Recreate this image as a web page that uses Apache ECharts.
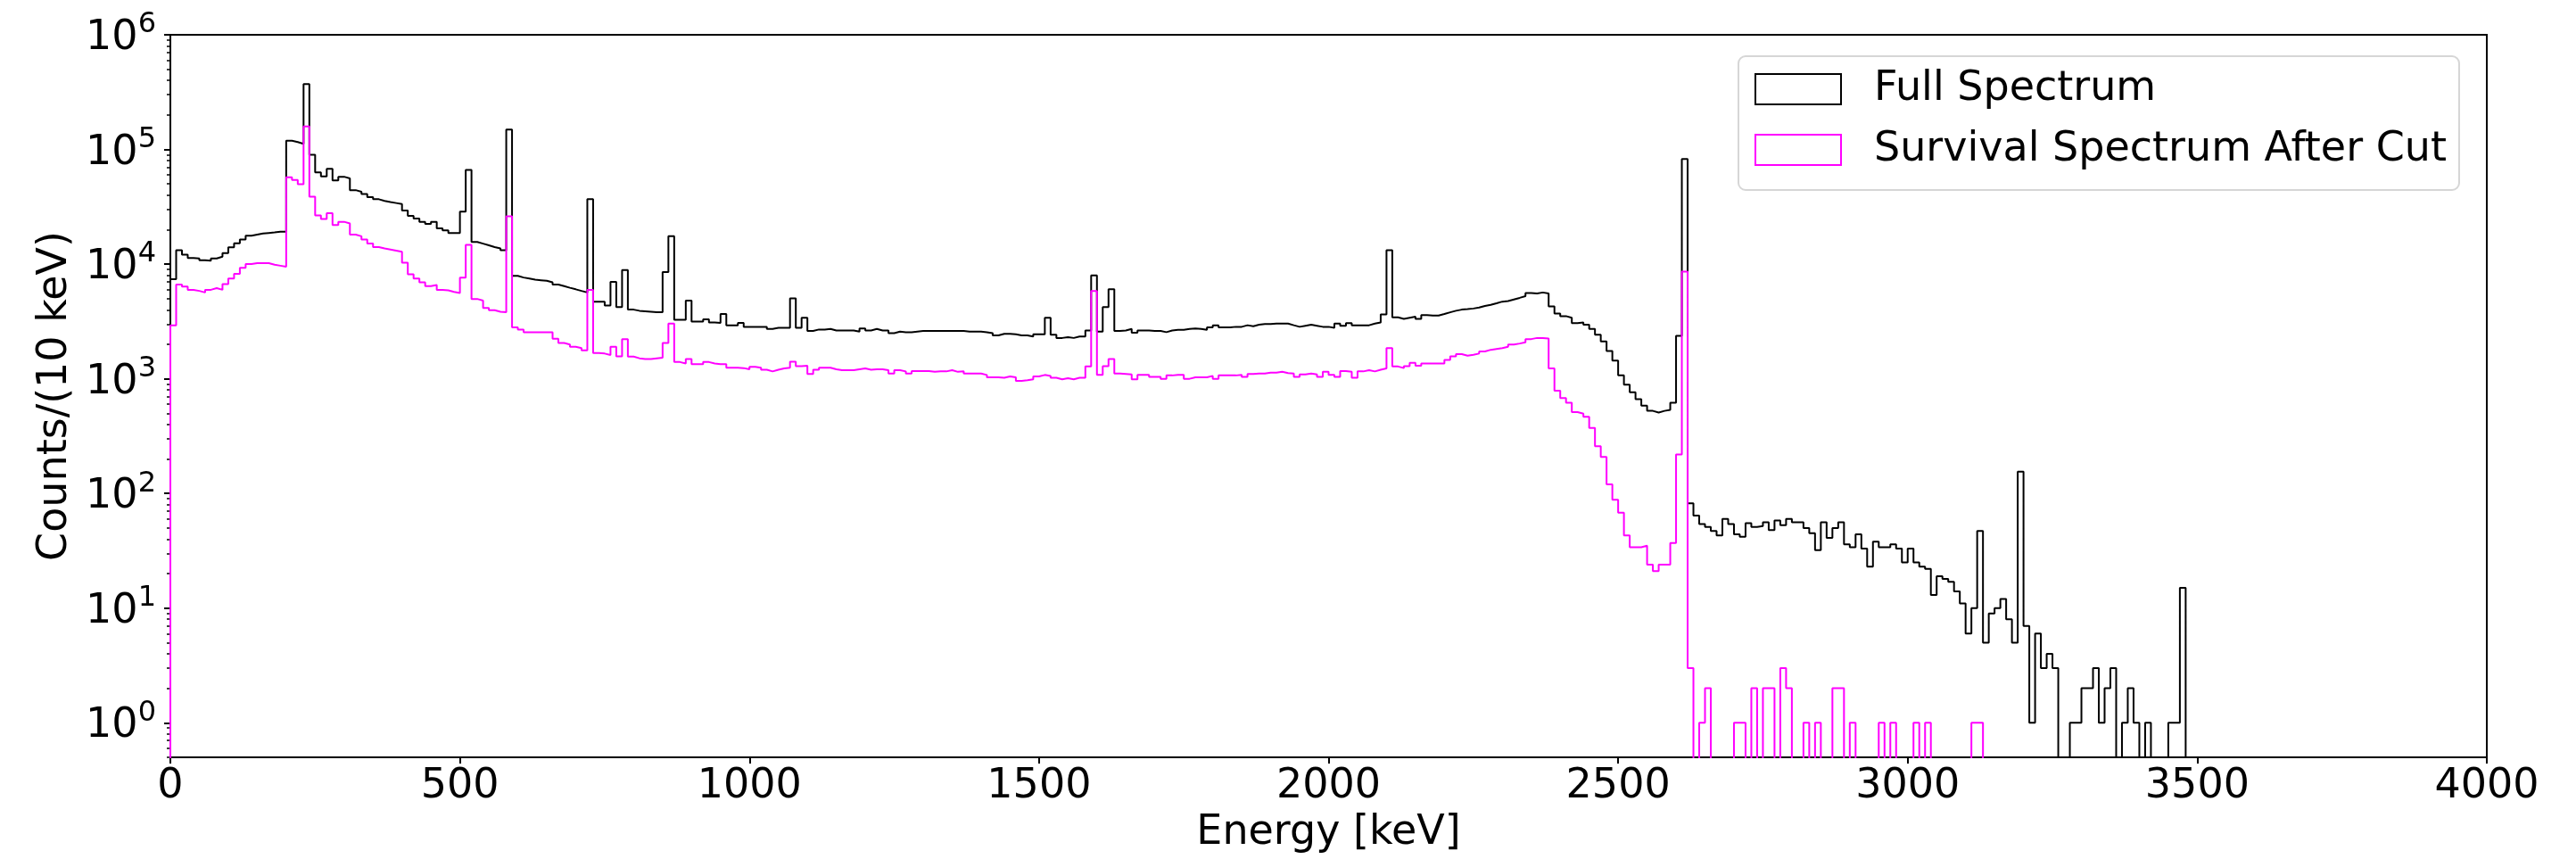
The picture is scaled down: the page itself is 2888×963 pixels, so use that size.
<!DOCTYPE html>
<html>
<head>
<meta charset="utf-8">
<script src="https://cdn.jsdelivr.net/npm/echarts@6/dist/echarts.min.js"></script>
<style>
html,body{margin:0;padding:0;background:#fff;}
#chart{width:2888px;height:963px;}
</style>
</head>
<body>
<div id="chart"></div>
<script>
// Histogram: 10 keV bins starting at 0 keV
const binWidth = 10;
const seriesNames = ['Full Spectrum', 'Survival Spectrum After Cut'];
const xTickValues = [0, 500, 1000, 1500, 2000, 2500, 3000, 3500, 4000];
const yMajorValues = [1, 10, 100, 1000, 10000, 100000, 1000000];

const fullCounts = [
7400,13200,12100,11300,11200,10800,10700,11200,11600,12500,
14000,15200,16400,17700,18100,18500,18700,18900,19200,19200,
119000,116000,112000,372000,89800,63000,58300,67900,53600,57800,
56000,44200,42800,40900,38400,36800,35600,34800,34100,33400,
29300,26300,25000,23400,22400,23400,20500,19700,18700,18700,
28700,66400,15600,15100,14600,14100,13700,13200,149000,7890,
7640,7480,7310,7240,7160,6940,6640,6430,6220,6030,
5840,5660,36800,4710,4710,4360,7010,4230,8890,4010,
3920,3880,3840,3800,3800,8510,17500,3270,3270,4810,
3160,3160,3300,3100,3070,3670,2930,2930,3070,2840,
2840,2840,2840,2720,2780,2780,2780,5020,2780,3410,
2610,2690,2690,2720,2640,2640,2640,2640,2580,2750,
2640,2720,2640,2640,2500,2580,2550,2550,2580,2610,
2610,2610,2610,2610,2610,2610,2610,2580,2580,2580,
2550,2500,2390,2470,2470,2440,2390,2390,2340,2440,
2440,3410,2420,2270,2310,2270,2340,2340,2640,7980,
2580,4230,6030,2610,2640,2720,2520,2640,2640,2610,
2610,2550,2640,2670,2670,2720,2750,2720,2670,2810,
2930,2810,2810,2840,2840,2930,2870,2960,3000,3000,
3030,3030,3030,2930,2840,2900,2960,2900,2840,2840,
2780,3030,2900,3060,2930,2930,2930,3030,3100,3640,
13200,3440,3330,3410,3480,3330,3600,3560,3560,3670,
3800,3920,4010,4050,4100,4180,4320,4420,4560,4710,
4760,4920,5080,5250,5600,5540,5660,5540,4280,3710,
3520,3410,3060,3100,2960,2720,2420,2120,1750,1440,
1070,889,764,664,583,525,508,525,536,617,
2370,82400,82,64,54,51,47,43,60,54,
44,42,55,51,52,56,48,58,53,60,
56,56,50,45,32,56,41,50,56,36,
34,44,33,23,38,34,34,36,33,25,
33,25,23,22,13,19,18,17,14,11,
6,10,47,5,9,10,12,8,5,155,
7,1,6,3,4,3,0,0,1,1,
2,2,3,1,2,3,0,1,2,1,
0,1,0,0,0,1,1,15
];

const survivalCounts = [
2930,6640,6360,5970,5840,5660,5970,6170,5970,6710,
7480,8240,9270,10000,10200,10200,10200,9900,9690,9480,
57200,54200,49700,159000,38800,26600,24700,27800,21900,23400,
22600,18100,17500,16400,15100,14100,13700,13400,13100,12800,
10300,8150,7480,6940,6430,6570,5970,5900,5720,5600,
7640,14700,4970,4810,4140,3970,3840,3800,26100,2810,
2690,2550,2550,2550,2550,2550,2240,2050,1990,1900,
1850,1770,5970,1680,1660,1610,1900,1570,2220,1560,
1510,1490,1490,1510,1530,2050,3030,1400,1360,1490,
1340,1340,1400,1360,1340,1340,1250,1250,1240,1210,
1270,1250,1200,1160,1200,1230,1250,1410,1290,1300,
1100,1200,1250,1250,1210,1190,1190,1190,1210,1230,
1200,1210,1210,1190,1110,1190,1160,1110,1170,1170,
1170,1150,1160,1160,1190,1150,1160,1110,1110,1110,
1080,1030,1030,1020,1050,1030,960,970,990,1050,
1080,1060,1020,990,1010,990,1020,1020,1280,5830,
1080,1290,1490,1110,1100,1090,990,1080,1080,1040,
1040,1000,1070,1080,1080,1000,1030,1030,1030,1060,
1000,1070,1070,1070,1080,1040,1100,1110,1110,1130,
1130,1150,1120,1110,1040,1090,1110,1090,1040,1150,
1080,1040,1170,1150,1020,1160,1190,1160,1200,1230,
1850,1280,1240,1290,1380,1300,1360,1360,1360,1360,
1460,1570,1640,1590,1620,1660,1730,1790,1820,1850,
1900,1990,2030,2080,2220,2270,2270,2250,1230,789,
679,617,513,497,466,372,258,208,120,88,
68,43,34,34,35,24,21,24,24,37,
219,8610,3,0,1,2,0,0,0,0,
1,1,0,2,0,2,2,0,3,2,
0,0,1,0,1,0,0,2,2,0,
1,0,0,0,0,1,0,1,0,0,
0,1,0,1,0,0,0,0,0,0,
0,1,1
];

// log-axis helper: empty bins fall below the visible range and are clipped
const FLOOR = 0.01;
function stepPoints(counts) {
  const pts = [[0, FLOOR]];
  counts.forEach(function (c, k) {
    const v = c > 0 ? c : FLOOR;
    pts.push([k * binWidth, v], [(k + 1) * binWidth, v]);
  });
  pts.push([counts.length * binWidth, FLOOR]);
  return pts;
}

const yMinorValues = [0.5];
for (let e = -1; e <= 5; e++) {
  for (let m = 2; m <= 9; m++) {
    const v = m * Math.pow(10, e);
    if (v >= 0.5 && v <= 1e6) yMinorValues.push(+v.toPrecision(3));
  }
}

const FONT = 'DejaVu Sans';
const chart = echarts.init(document.getElementById('chart'), null, {renderer: 'canvas'});

chart.setOption({
  animation: false,
  backgroundColor: '#ffffff',
  grid: {
    left: 191, right: 100, top: 39, bottom: 114,
    show: true, borderColor: '#000', borderWidth: 2, backgroundColor: 'transparent'
  },
  legend: {
    orient: 'vertical',
    left: 1949, top: 63,
    itemWidth: 96, itemHeight: 34, itemGap: 22,
    padding: [14, 14, 22, 18],
    backgroundColor: '#ffffff',
    borderColor: '#d6d6d6', borderWidth: 2, borderRadius: 8,
    textStyle: {fontFamily: FONT, fontSize: 46, color: '#000', padding: [0, 0, 0, 32], lineHeight: 46},
    data: [
      {name: seriesNames[0], icon: 'rect', itemStyle: {color: 'rgba(0,0,0,0)', borderColor: '#000000', borderWidth: 2}},
      {name: seriesNames[1], icon: 'rect', itemStyle: {color: 'rgba(0,0,0,0)', borderColor: '#ff00ff', borderWidth: 2}}
    ]
  },
  xAxis: {
    type: 'value', min: 0, max: 4000, interval: 500,
    name: 'Energy [keV]', nameLocation: 'middle', nameGap: 62,
    nameTextStyle: {fontFamily: FONT, fontSize: 46, color: '#000'},
    axisLine: {show: true, onZero: false, lineStyle: {color: '#000', width: 2}},
    axisTick: {show: true, inside: false, length: 7, lineStyle: {color: '#000', width: 2}},
    axisLabel: {fontFamily: FONT, fontSize: 46, color: '#000', margin: 10,
      customValues: xTickValues,
      formatter: function (v) { return String(v); }},
    splitLine: {show: false}
  },
  yAxis: [
    {
      type: 'log', logBase: 10, min: 0.5, max: 1e6,
      name: 'Counts/(10 keV)', nameLocation: 'middle', nameGap: 104, nameRotate: 90,
      nameTextStyle: {fontFamily: FONT, fontSize: 46, color: '#000'},
      axisLine: {show: true, onZero: false, lineStyle: {color: '#000', width: 2}},
      axisTick: {show: true, inside: false, length: 7, lineStyle: {color: '#000', width: 2},
        customValues: yMajorValues},
      axisLabel: {
        margin: 16, color: '#000',
        customValues: yMajorValues,
        formatter: function (v) {
          const e = Math.round(Math.log10(v));
          return '{b|10}{s|' + e + '}';
        },
        rich: {
          b: {fontFamily: FONT, fontSize: 46, color: '#000', lineHeight: 54, verticalAlign: 'bottom'},
          s: {fontFamily: FONT, fontSize: 32, color: '#000', lineHeight: 32, verticalAlign: 'top'}
        }
      },
      splitLine: {show: false},
      minorTick: {show: false}
    },
    {
      type: 'log', logBase: 10, min: 0.5, max: 1e6, position: 'left',
      axisLine: {show: false},
      axisTick: {show: true, inside: false, length: 4, lineStyle: {color: '#000', width: 1.5},
        customValues: yMinorValues},
      axisLabel: {show: false},
      splitLine: {show: false}
    }
  ],
  series: [
    {
      name: seriesNames[0], type: 'line', yAxisIndex: 0,
      data: stepPoints(fullCounts),
      showSymbol: false, symbol: 'none', clip: true,
      lineStyle: {color: '#000000', width: 2},
      itemStyle: {color: '#000000'},
      z: 2
    },
    {
      name: seriesNames[1], type: 'line', yAxisIndex: 0,
      data: stepPoints(survivalCounts),
      showSymbol: false, symbol: 'none', clip: true,
      lineStyle: {color: '#ff00ff', width: 2},
      itemStyle: {color: '#ff00ff'},
      z: 3
    }
  ]
});
</script>
</body>
</html>
